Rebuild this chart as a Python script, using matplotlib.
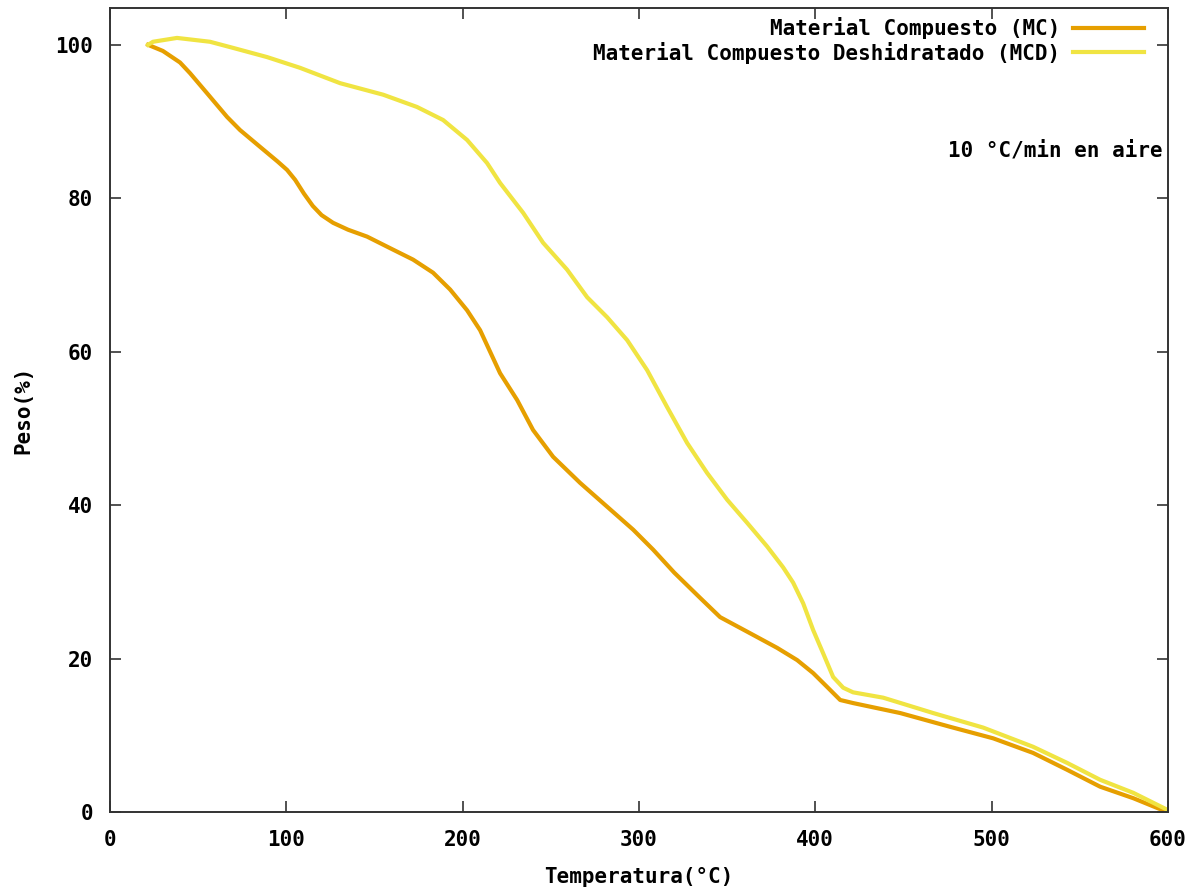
import numpy as np
import matplotlib
matplotlib.use("Agg")
import matplotlib.pyplot as plt

# --> curva TGA, material compuesto (MC)
temp_mc = [21.6, 30.0, 39.7, 45.4, 55.0, 66.4, 73.7, 85.1, 95.0, 100.4, 105.0,
           110.0, 115.0, 120.0, 126.5, 135.0, 145.8, 158.8, 171.9, 183.2, 192.9,
           202.5, 209.9, 221.2, 230.9, 239.9, 251.3, 266.6, 281.9, 296.7, 308.0,
           320.0, 334.7, 346.0, 363.0, 378.3, 389.7, 398.8, 406.7, 414.1, 421.4,
           448.1, 476.5, 500.9, 523.5, 542.8, 561.5, 580.3, 599.5]
peso_mc = [100.0, 99.2, 97.7, 96.3, 93.7, 90.6, 88.9, 86.7, 84.8, 83.7, 82.4,
           80.6, 79.0, 77.8, 76.8, 75.9, 75.0, 73.5, 72.0, 70.3, 68.1,
           65.4, 62.8, 57.2, 53.7, 49.8, 46.3, 42.9, 39.8, 36.8, 34.2,
           31.2, 27.9, 25.4, 23.3, 21.4, 19.8, 18.1, 16.3, 14.6, 14.2,
           12.9, 11.1, 9.6, 7.7, 5.5, 3.3, 1.8, 0.0]

# --> curva TGA, material compuesto deshidratado (MCD)
temp_mcd = [21.6, 24.4, 38.0, 56.7, 69.8, 89.1, 107.8, 130.5, 154.9, 174.1,
            188.9, 202.5, 213.8, 221.2, 234.3, 245.6, 259.2, 270.6, 281.9,
            293.3, 304.6, 315.9, 327.3, 338.6, 350.0, 361.3, 372.7, 381.7,
            387.4, 393.1, 398.8, 404.4, 410.1, 415.8, 421.4, 438.5, 466.8,
            495.2, 523.5, 542.8, 561.5, 580.3, 599.5]
peso_mcd = [100.0, 100.4, 100.9, 100.4, 99.6, 98.4, 97.0, 95.0, 93.5, 91.9,
            90.2, 87.6, 84.6, 82.0, 78.1, 74.2, 70.7, 67.1, 64.5,
            61.5, 57.6, 52.8, 48.1, 44.2, 40.7, 37.7, 34.6, 31.9,
            29.9, 27.2, 23.7, 20.7, 17.6, 16.2, 15.6, 14.9, 12.9,
            11.0, 8.5, 6.4, 4.2, 2.5, 0.3]

labels = ['Material Compuesto (MC)', 'Material Compuesto Deshidratado (MCD)']
colores = ['#E69F00', '#F0E442']
x_ticks = [0, 100, 200, 300, 400, 500, 600]
y_ticks = [0, 20, 40, 60, 80, 100]

plt.rcParams['font.family'] = ['DejaVu Sans Mono']
plt.rcParams['font.weight'] = 'bold'
fs = 15

fig = plt.figure(figsize=(12, 8.88), dpi=100)
ax = fig.add_axes([110 / 1200, 1 - 812 / 888, (1168 - 110) / 1200, (812 - 8) / 888])

ax.plot(temp_mc, peso_mc, color=colores[0], lw=3, label=labels[0])
ax.plot(temp_mcd, peso_mcd, color=colores[1], lw=3, label=labels[1])

ax.set_xlim(0, 600)
ax.set_ylim(0, 104.8)
ax.set_xticks(x_ticks)
ax.set_yticks(y_ticks)
ax.tick_params(axis='both', direction='in', length=8, width=1.2, labelsize=fs,
               top=True, right=True, color='#333333')
ax.tick_params(axis='x', pad=13)
ax.tick_params(axis='y', pad=12)
for s in ax.spines.values():
    s.set_linewidth(1.4)
    s.set_color('#333333')

ax.set_xlabel('Temperatura(°C)', fontsize=fs, fontweight='bold', labelpad=12)
ax.set_ylabel('Peso(%)', fontsize=fs, fontweight='bold', labelpad=16)

# --> leyenda a la gnuplot: texto a la izquierda, muestra de linea a la derecha
ax.legend(loc='upper right', bbox_to_anchor=(1 - 18 / 1058, 1 - 3 / 804),
          frameon=False, markerfirst=False,
          handlelength=3.4, handletextpad=0.6, labelspacing=0.12,
          borderaxespad=0.0, borderpad=0.3, prop={'weight': 'bold', 'size': fs})

ax.text(0.995, 0.823, '10 °C/min en aire', transform=ax.transAxes,
        ha='right', va='center', fontsize=fs, fontweight='bold')

plt.savefig('out.png', dpi=100)
